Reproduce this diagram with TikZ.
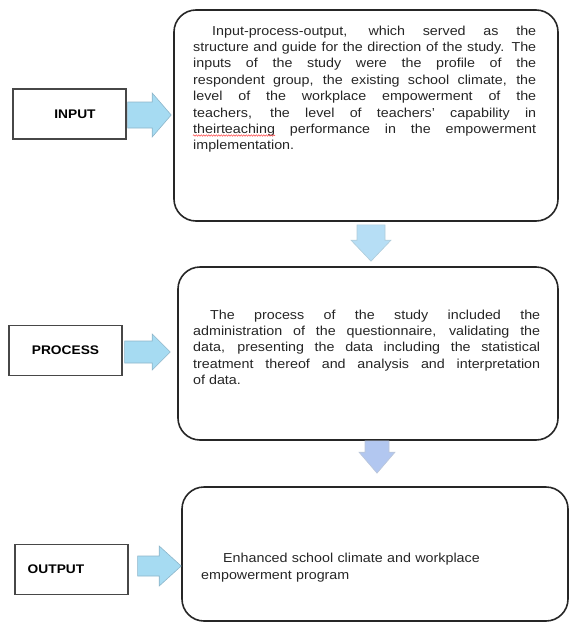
\documentclass[tikz,border=0pt]{standalone}
\usepackage{fontspec}
\setmainfont[FakeStretch=1.1]{Liberation Sans}
\usepackage{xcolor}
\usetikzlibrary{calc,decorations.pathmorphing}
\definecolor{boxline}{HTML}{262626}
\definecolor{sideblue}{HTML}{A6DBF2}
\definecolor{sideedge}{HTML}{8DB6CA}
\definecolor{dropblue}{HTML}{B6DEF5}
\definecolor{droplilac}{HTML}{B2C7F0}
\newcommand{\sideblock}[6]{%
  \draw[#6] let \p1=(#1), \p2=(#2) in
    (\x1,\y1+#3) -- (\x2-#5,\y1+#3) -- (\x2-#5,\y1+#4) -- (\x2,\y1)
    -- (\x2-#5,\y1-#4) -- (\x2-#5,\y1-#3) -- (\x1,\y1-#3) -- cycle;}
\newcommand{\dropblock}[6]{%
  \draw[#6] let \p1=(#1), \p2=(#2) in
    (\x1-#3,\y1) -- (\x1-#3,\y2+#5) -- (\x1-#4,\y2+#5) -- (\x1,\y2)
    -- (\x1+#4,\y2+#5) -- (\x1+#3,\y2+#5) -- (\x1+#3,\y1) -- cycle;}

\begin{document}
\begin{tikzpicture}[x=1pt, y=-1pt,
  bigbox/.style={draw=boxline, line width=1.6pt, rounded corners=22pt, inner sep=0pt},
  tagbox/.style={draw=boxline!85, line width=1.3pt, inner sep=0pt, minimum width=113pt,
                 minimum height=50pt, font=\fontsize{12.5}{14}\selectfont\bfseries},
  bodytext/.style={text width=343pt, align=justify, inner sep=0pt, anchor=base west,
                   font=\fontsize{13}{16.4}\selectfont, text=black!85},
  blockarrow/.style={fill=sideblue, draw=sideedge, line width=0.6pt},
  spellmark/.style={red!75, line width=0.5pt, decorate,
                    decoration={snake, amplitude=0.7pt, segment length=2.5pt}}
]
\useasboundingbox (0,0) rectangle (571,624);

% stage boxes
\node[bigbox, minimum width=384pt, minimum height=211pt] (inbox) at (366,115.5) {};
\node[bigbox, minimum width=380pt, minimum height=173pt] (procbox) at (368,353.5) {};
\node[bigbox, minimum width=386pt, minimum height=134pt] (outbox) at (375,554) {};

% tags on the left
\node[tagbox] (intag) at (69.5,114) {\hspace*{11pt}INPUT};
\node[tagbox] (proctag) at (65.5,350.5) {PROCESS};
\node[tagbox] (outtag) at (71.5,569.5) {OUTPUT\hspace*{31pt}};

% texts
\node[bodytext] (intext) at (193,35) {\hspace*{19pt}Input-process-output, which served as the\linebreak
  structure and guide for the direction of the study. The\linebreak
  inputs of the study were the profile of the\linebreak
  respondent group, the existing school climate, the\linebreak
  level of the workplace empowerment of the\linebreak
  teachers, the level of teachers' capability in\linebreak
  theirteaching performance in the empowerment\linebreak
  implementation.};
\node[bodytext, text width=347pt] (proctext) at (193,319) {\hspace*{17pt}The process of the study included the\linebreak
  administration of the questionnaire, validating the\linebreak
  data, presenting the data including the statistical\linebreak
  treatment thereof and analysis and interpretation\linebreak
  of data.};
\node[bodytext, align=left, font=\fontsize{13}{17.5}\selectfont] (outtext) at (201,562)
  {\hspace*{22pt}Enhanced school climate and workplace\\empowerment program};

\draw[spellmark] ($(intext.base west)+(0,100.5)$) -- ++(82,0);

% arrow ends
\coordinate (inA) at ($(intag.east)+(1,1)$);
\coordinate (inB) at ($(inbox.west |- inA)+(-2,0)$);
\coordinate (procA) at ($(proctag.east)+(2,1.5)$);
\coordinate (procB) at ($(procbox.west |- procA)+(-7,0)$);
\coordinate (outA) at ($(outtag.east)+(9,-3.5)$);
\coordinate (outB) at ($(outbox.west |- outA)$);
\coordinate (dropA) at ($(inbox.south)+(5,3)$);
\coordinate (dropB) at ($(procbox.north -| dropA)+(0,-5)$);
\coordinate (dropC) at ($(procbox.south)+(9,0)$);
\coordinate (dropD) at ($(outbox.north -| dropC)+(0,-13)$);

% block arrows
\sideblock{inA}{inB}{13pt}{22pt}{19pt}{blockarrow}
\sideblock{procA}{procB}{11pt}{18pt}{18pt}{blockarrow}
\sideblock{outA}{outB}{10pt}{20pt}{22pt}{blockarrow}
\dropblock{dropA}{dropB}{14pt}{20pt}{21pt}{blockarrow, fill=dropblue, draw=sideedge!70}
\dropblock{dropC}{dropD}{12pt}{18pt}{21pt}{blockarrow, fill=droplilac, draw=droplilac!80!black!60}
\end{tikzpicture}
\end{document}
